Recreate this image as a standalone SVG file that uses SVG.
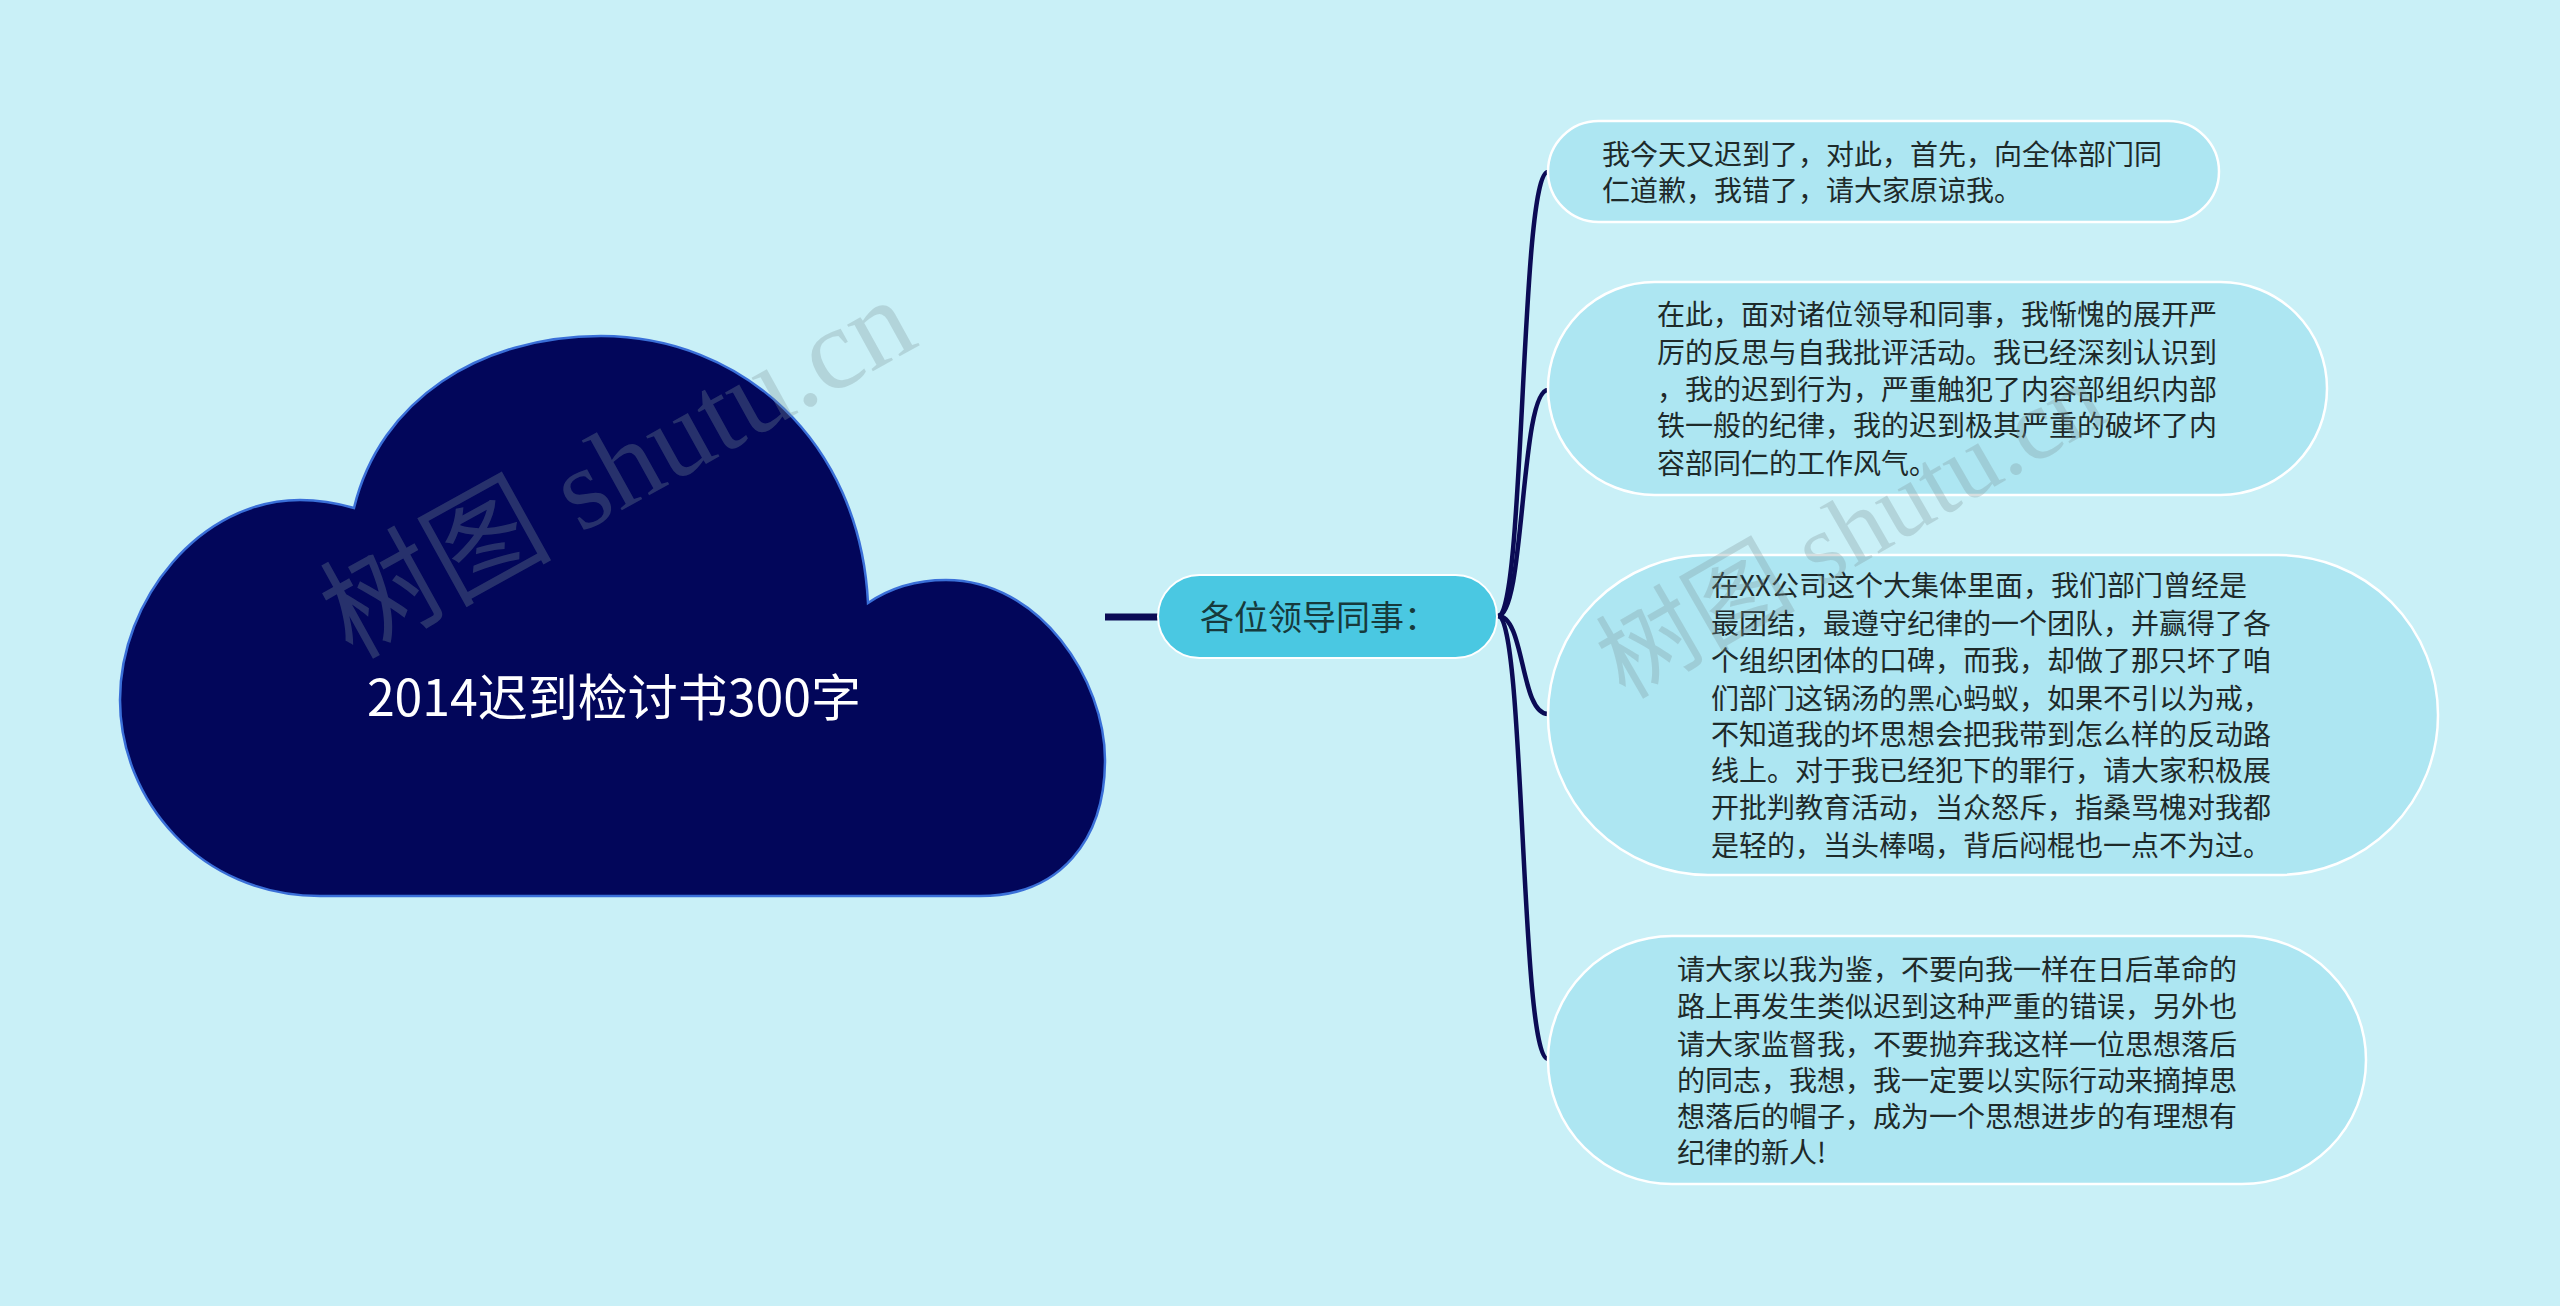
<svg xmlns="http://www.w3.org/2000/svg" width="2560" height="1306" viewBox="0 0 2560 1306">
<style>
.leaf{fill:#ade6f2;stroke:#ffffff;stroke-width:2.5}
.lt{font-family:"Noto Sans CJK SC","Noto Sans",sans-serif;font-size:28px;fill:#1e2a2a}
.conn{fill:none;stroke:#0b0b55;stroke-width:4.5;stroke-linecap:round}
.wm{font-family:"Liberation Serif","Noto Sans CJK SC",serif;fill:#7f9499;fill-opacity:0.3}
</style>
<rect x="0" y="0" width="2560" height="1306" fill="#c9f0f7"/>
<g id="connectors">
<line x1="1105" y1="617" x2="1158" y2="617" stroke="#0b0b55" stroke-width="7"/>
<path class="conn" d="M1498,616 C1525,616 1520,172 1548,172"/>
<path class="conn" d="M1498,616 C1525,616 1520,390 1548,390"/>
<path class="conn" d="M1498,616 C1525,616 1520,714 1548,714"/>
<path class="conn" d="M1498,616 C1525,616 1520,1059 1548,1059"/>
</g>
<g id="root">
<path d="M354,508 C380,400 480,336 601,336 C740,336 860,440 868,603 C890,588 915,580 946,580 C1040,580 1105,680 1105,760 C1105,840 1060,896 980,896 L320,896 C200,896 120,800 120,700 C120,600 200,500 300,500 C320,500 340,504 354,508 Z" fill="#02065a" stroke="#3a6fd8" stroke-width="2.5"/>
<text x="614" y="716" text-anchor="middle" font-family="Noto Sans CJK SC,Noto Sans,sans-serif" font-size="50" fill="#ffffff">2014迟到检讨书300字</text>
</g>
<g id="mid">
<rect x="1158" y="575" width="339" height="83" rx="41.5" fill="#4ac8e2" stroke="#ffffff" stroke-width="2"/>
<text x="1200" y="630" font-family="Noto Sans CJK SC,Noto Sans,sans-serif" font-size="34" fill="#173a3c">各位领导同事：</text>
</g>
<g id="leaf1">
<rect class="leaf" x="1548" y="121" width="671" height="101" rx="50.5"/>
<text class="lt" x="1602" y="165">我今天又迟到了，对此，首先，向全体部门同</text>
<text class="lt" x="1602" y="201">仁道歉，我错了，请大家原谅我。</text>
</g>
<g id="leaf2">
<rect class="leaf" x="1548" y="282" width="779" height="213" rx="106.5"/>
<text class="lt" x="1657" y="325">在此，面对诸位领导和同事，我惭愧的展开严</text>
<text class="lt" x="1657" y="363">厉的反思与自我批评活动。我已经深刻认识到</text>
<text class="lt" x="1657" y="400">，我的迟到行为，严重触犯了内容部组织内部</text>
<text class="lt" x="1657" y="436">铁一般的纪律，我的迟到极其严重的破坏了内</text>
<text class="lt" x="1657" y="474">容部同仁的工作风气。</text>
</g>
<g id="leaf3">
<rect class="leaf" x="1548" y="555" width="890" height="320" rx="160"/>
<text class="lt" x="1711" y="596">在XX公司这个大集体里面，我们部门曾经是</text>
<text class="lt" x="1711" y="634">最团结，最遵守纪律的一个团队，并赢得了各</text>
<text class="lt" x="1711" y="671">个组织团体的口碑，而我，却做了那只坏了咱</text>
<text class="lt" x="1711" y="709">们部门这锅汤的黑心蚂蚁，如果不引以为戒，</text>
<text class="lt" x="1711" y="745">不知道我的坏思想会把我带到怎么样的反动路</text>
<text class="lt" x="1711" y="781">线上。对于我已经犯下的罪行，请大家积极展</text>
<text class="lt" x="1711" y="818">开批判教育活动，当众怒斥，指桑骂槐对我都</text>
<text class="lt" x="1711" y="856">是轻的，当头棒喝，背后闷棍也一点不为过。</text>
</g>
<g id="leaf4">
<rect class="leaf" x="1548" y="936" width="818" height="248" rx="124"/>
<text class="lt" x="1677" y="980">请大家以我为鉴，不要向我一样在日后革命的</text>
<text class="lt" x="1677" y="1017">路上再发生类似迟到这种严重的错误，另外也</text>
<text class="lt" x="1677" y="1055">请大家监督我，不要抛弃我这样一位思想落后</text>
<text class="lt" x="1677" y="1091">的同志，我想，我一定要以实际行动来摘掉思</text>
<text class="lt" x="1677" y="1127">想落后的帽子，成为一个思想进步的有理想有</text>
<text class="lt" x="1677" y="1163">纪律的新人!</text>
</g>
<g id="watermarks">
<text class="wm" font-size="116" transform="translate(352,660) rotate(-29)">树图 shutu.cn</text>
<text class="wm" font-size="100" transform="translate(1625,700) rotate(-30)">树图 shutu.cn</text>
</g>
</svg>
